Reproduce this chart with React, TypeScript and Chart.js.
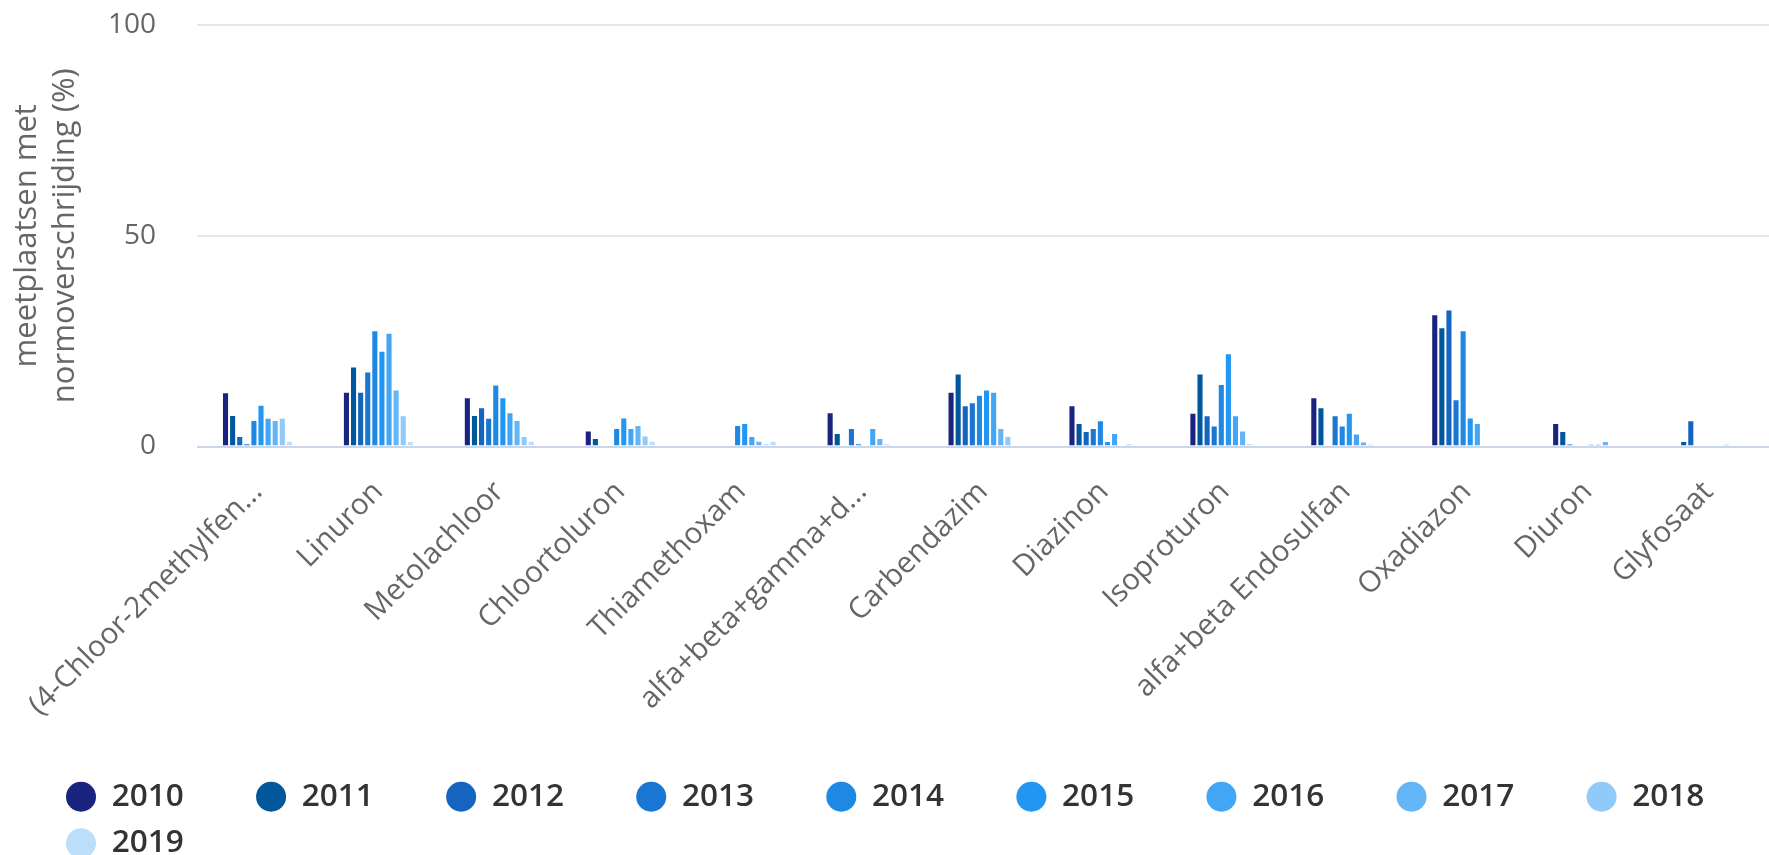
import React, { useEffect, useRef } from "react";
import { Chart, registerables } from "chart.js";

Chart.register(...registerables);

const categories = [
  "(4-Chloor-2methylfen...",
  "Linuron",
  "Metolachloor",
  "Chloortoluron",
  "Thiamethoxam",
  "alfa+beta+gamma+d...",
  "Carbendazim",
  "Diazinon",
  "Isoproturon",
  "alfa+beta Endosulfan",
  "Oxadiazon",
  "Diuron",
  "Glyfosaat",
];

const years = ["2010", "2011", "2012", "2013", "2014", "2015", "2016", "2017", "2018", "2019"];

const yearColors = [
  "#1a237e", "#01579b", "#1565c0", "#1976d2", "#1e88e5",
  "#2196f3", "#42a5f5", "#64b5f6", "#90caf9", "#bbdefb",
];

const v2010 = [12.9, 13.0, 11.7, 3.8, null, 8.1, 13.0, 9.8, 8.0, 11.7, 31.4, 5.6, null];
const v2011 = [7.5, 19.0, 7.5, 2.0, null, 3.2, 17.3, 5.6, 17.3, 9.3, 28.3, 3.7, 1.3];
const v2012 = [2.5, 13.0, 9.3, null, null, null, 9.8, 3.7, 7.4, null, 32.5, 0.7, 6.2];
const v2013 = [0.8, 17.8, 6.8, null, null, 4.4, 10.5, 4.4, 5.0, 7.4, 11.2, null, null];
const v2014 = [6.3, 27.6, 14.7, 4.4, 5.1, 0.8, 12.3, 6.2, 14.8, 5.0, 27.6, null, null];
const v2015 = [9.9, 22.7, 11.7, 6.9, 5.6, null, 13.5, 1.3, 22.1, 8.0, 6.9, 0.6, null];
const v2016 = [6.8, 27.0, 8.1, 4.4, 2.5, 4.4, 13.0, 3.2, 7.4, 3.1, 5.6, 0.6, null];
const v2017 = [6.3, 13.5, 6.3, 5.1, 1.35, 2.0, 4.4, null, 3.8, 1.2, null, 1.3, 0.6];
const v2018 = [6.8, 7.4, 2.5, 2.6, 0.7, 0.7, 2.5, 0.7, 0.7, 0.6, null, null, null];
const v2019 = [1.35, 1.3, 1.35, 1.35, 1.35, null, null, null, null, null, null, null, null];

const seriesValues = [v2010, v2011, v2012, v2013, v2014, v2015, v2016, v2017, v2018, v2019];

const yTicks = [0, 50, 100];
const yTitle = ["meetplaatsen met", "normoverschrijding (%)"];

export default function App() {
  const canvasRef = useRef<HTMLCanvasElement | null>(null);

  useEffect(() => {
    if (!canvasRef.current) return;
    const chart = new Chart(canvasRef.current, {
      type: "bar",
      data: {
        labels: categories,
        datasets: years.map((y, i) => ({
          label: y,
          data: seriesValues[i],
          backgroundColor: yearColors[i],
          borderColor: "#ffffff",
          borderWidth: 1,
          borderSkipped: "start",
          barPercentage: 1.0,
          categoryPercentage: 0.587,
        })),
      },
      options: {
        animation: false,
        responsive: true,
        maintainAspectRatio: false,
        layout: { padding: { left: 51, right: -12, top: 25, bottom: -14 } },
        plugins: {
          tooltip: { enabled: false },
          legend: {
            position: "bottom",
            align: "start",
            labels: {
              usePointStyle: true,
              pointStyle: "circle",
              pointStyleWidth: 30,
              boxHeight: 21.2,
              padding: 15,
              color: "#333333",
              font: { family: "'Open Sans'", size: 31.5, weight: "600" },
              generateLabels: (ch: any) =>
                ch.data.datasets.map((ds: any, i: number) => ({
                  text: ds.label + "       ",
                  fillStyle: ds.backgroundColor,
                  strokeStyle: ds.backgroundColor,
                  lineWidth: 0,
                  pointStyle: "circle",
                  hidden: false,
                  datasetIndex: i,
                  fontColor: "#333333",
                })),
            },
          },
        },
        scales: {
          x: {
            grid: { display: false, drawTicks: false },
            border: { display: false },
            ticks: {
              color: "#666666",
              font: { family: "'Open Sans'", size: 29.5 },
              minRotation: 45,
              maxRotation: 45,
              autoSkip: false,
              padding: 28,
            },
            afterFit: (s: any) => {
              s.height = 319.5;
              s.paddingLeft = 0;
              s.paddingRight = 0;
            },
          },
          y: {
            min: 0,
            max: 100,
            afterBuildTicks: (s: any) => {
              s.ticks = yTicks.map((v) => ({ value: v }));
            },
            grid: {
              drawTicks: false,
              color: (c: any) => (c.tick && c.tick.value === 0 ? "#ccd6eb" : "#e6e6e6"),
              lineWidth: 2,
            },
            border: { display: false },
            ticks: {
              color: "#666666",
              font: { family: "'Open Sans'", size: 28 },
              padding: 41,
            },
            title: {
              display: true,
              text: yTitle,
              color: "#666666",
              font: { family: "'Open Sans'", size: 31, lineHeight: 1.23 },
              padding: { top: -43, bottom: 0 },
            },
            afterFit: (s: any) => {
              s.width = 146;
              s.paddingTop = 0;
              s.paddingBottom = 0;
            },
          },
        },
      },
    });
    return () => chart.destroy();
  }, []);

  return (
    <div style={{ position: "fixed", left: 0, top: 0, width: 1769, height: 855, background: "#fff" }}>
      <canvas ref={canvasRef} />
    </div>
  );
}
